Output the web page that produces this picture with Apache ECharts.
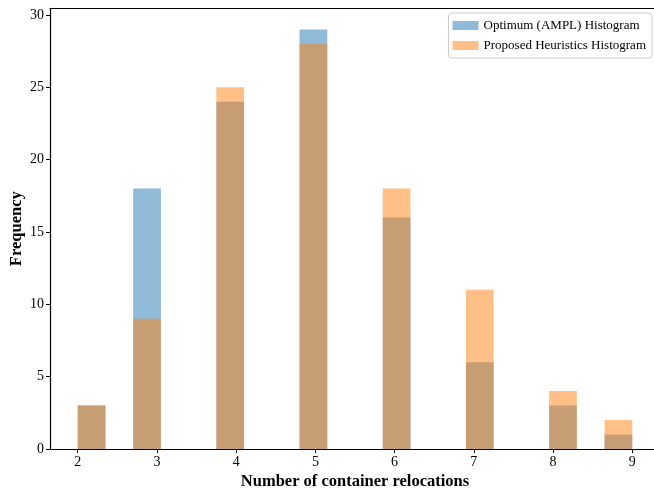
<!DOCTYPE html>
<html><head><meta charset="utf-8">
<script src="https://cdn.jsdelivr.net/npm/echarts@6/dist/echarts.min.js"></script>
<style>html,body{margin:0;padding:0;background:#fff}#c{width:654px;height:491px}</style>
</head><body><div id="c"></div>
<script>
var tickLabels = [2, 3, 4, 5, 6, 7, 8, 9];
var binLeft  = [2.00, 2.70, 3.75, 4.80, 5.85, 6.90, 7.95, 8.65];
var binRight = [2.35, 3.05, 4.10, 5.15, 6.20, 7.25, 8.30, 9.00];
var optimumCounts   = [3, 18, 24, 29, 16, 6, 3, 1];
var heuristicCounts = [3, 9, 25, 28, 18, 11, 4, 2];
var yTicks = [0, 5, 10, 15, 20, 25, 30];

var font = 'Liberation Serif';
function mk(counts){ return counts.map(function(v,i){ return [binLeft[i], binRight[i], v]; }); }
function renderItem(params, api){
  var p0 = api.coord([api.value(0), api.value(2)]);
  var p1 = api.coord([api.value(1), 0]);
  return { type:'rect', shape:{ x:p0[0], y:p0[1], width:p1[0]-p0[0], height:p1[1]-p0[1] },
           style:{ fill: api.visual('color') } };
}
var chart = echarts.init(document.getElementById('c'), null, {renderer:'canvas'});
chart.setOption({
  animation:false,
  textStyle:{fontFamily:font},
  grid:{left:50, right:-6, top:8.4, bottom:42, containLabel:false, outerBoundsMode:'none', show:false},
  legend:{
    top:13, right:2, orient:'vertical', icon:'rect', itemWidth:26, itemHeight:9, itemGap:7,
    backgroundColor:'#fff', borderColor:'#ccc', borderWidth:1, borderRadius:3, padding:[6,6,6,4],
    textStyle:{fontFamily:font, fontSize:13, color:'#000'},
    data:['Optimum (AMPL) Histogram','Proposed Heuristics Histogram']
  },
  xAxis:[{type:'value', min:1.65, max:9.35, interval:1,
    name:'Number of container relocations', nameLocation:'middle', nameGap:24, nameMoveOverlap:false,
    nameTextStyle:{fontFamily:font, fontSize:16.5, fontWeight:'bold', color:'#000'},
    axisLine:{show:true, onZero:false, lineStyle:{color:'#000', width:1.2}},
    axisTick:{show:true, length:4, lineStyle:{color:'#000'}, customValues: tickLabels},
    axisLabel:{fontFamily:font, fontSize:14, color:'#000', margin:6, customValues: tickLabels,
      formatter:function(v){return String(v);} },
    splitLine:{show:false}},
   {type:'value', position:'top', min:1.65, max:9.35,
    axisLine:{show:true, onZero:false, lineStyle:{color:'#000', width:1.2}},
    axisTick:{show:false}, axisLabel:{show:false}, splitLine:{show:false}}],
  yAxis:{type:'value', min:0, max:30.45,
    name:'Frequency', nameLocation:'middle', nameGap:25, nameRotate:90, nameMoveOverlap:false,
    nameTextStyle:{fontFamily:font, fontSize:16.5, fontWeight:'bold', color:'#000'},
    axisLine:{show:true, lineStyle:{color:'#000', width:1.2}},
    axisTick:{show:true, length:4, lineStyle:{color:'#000'}, customValues: yTicks},
    axisLabel:{fontFamily:font, fontSize:14, color:'#000', margin:6, customValues: yTicks},
    splitLine:{show:false}},
  series:[
    {name:'Optimum (AMPL) Histogram', type:'custom', renderItem:renderItem, xAxisIndex:0,
     itemStyle:{color:'rgba(31,119,180,0.5)'}, encode:{x:[0,1], y:2}, data:mk(optimumCounts)},
    {name:'Proposed Heuristics Histogram', type:'custom', renderItem:renderItem, xAxisIndex:0,
     itemStyle:{color:'rgba(255,127,14,0.5)'}, encode:{x:[0,1], y:2}, data:mk(heuristicCounts)}
  ]
});
</script></body></html>
